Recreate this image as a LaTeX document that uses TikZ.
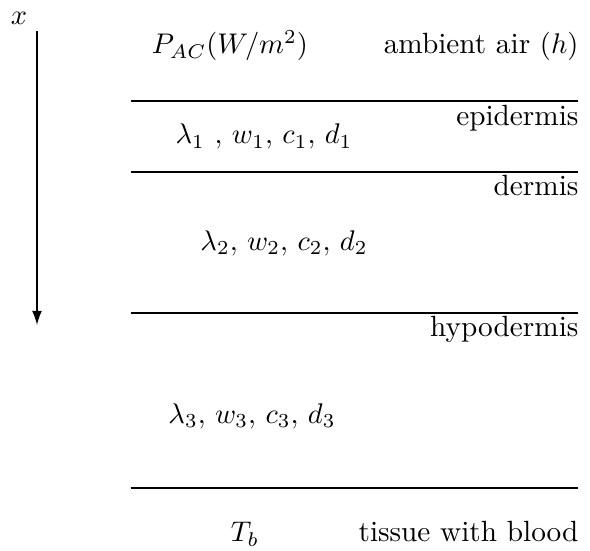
\documentclass[tikz,border=0pt]{standalone}
\usepackage{tikz}
\usetikzlibrary{positioning, arrows.meta}

\begin{document}
\begin{tikzpicture}[x=0.352pt, y=-0.352pt,
  font=\fontsize{10.3pt}{12pt}\selectfont,
  bound/.style={line width=0.5pt},
  lbl/.style={anchor=base east, inner sep=0pt},
  prm/.style={anchor=base, inner sep=0pt}]
\useasboundingbox (0,0) rectangle (590,551);
% depth axis
\node[anchor=base, inner sep=0pt] (xlbl) at (19,25) {$x$};
\coordinate (xtop) at (37,31);
\coordinate (xbot) at (37,325);
\draw[bound, -{Latex[length=5pt, width=3.5pt]}] (xtop) -- (xbot);
% layer boundaries
\foreach \n/\y in {a/101, b/172, c/313, d/488}{
  \coordinate (\n w) at (131,\y);
  \coordinate (\n e) at (578,\y);
  \draw[bound] (\n w) -- (\n e);
}
% labels
\node[prm] (pac) at (230,54) {$P_{AC} (W/m^2)$};
\node[lbl] (air) at (579,54) {ambient air $(h)$};
\node[lbl] (epi) at (579,125) {epidermis};
\node[prm] (par1) at (264,144) {$\lambda_1\ , \, w_1, \, c_1, \, d_1$};
\node[lbl] (der) at (579,196) {dermis};
\node[prm] (par2) at (284,250) {$\lambda_2, \, w_2, \, c_2, \, d_2$};
\node[lbl] (hyp) at (579,337) {hypodermis};
\node[prm] (par3) at (252,423) {$\lambda_3, \, w_3, \, c_3, \, d_3$};
\node[prm] (tb) at (245,542) {$T_b$};
\node[lbl] (blood) at (579,542) {tissue with blood};
\end{tikzpicture}
\end{document}
